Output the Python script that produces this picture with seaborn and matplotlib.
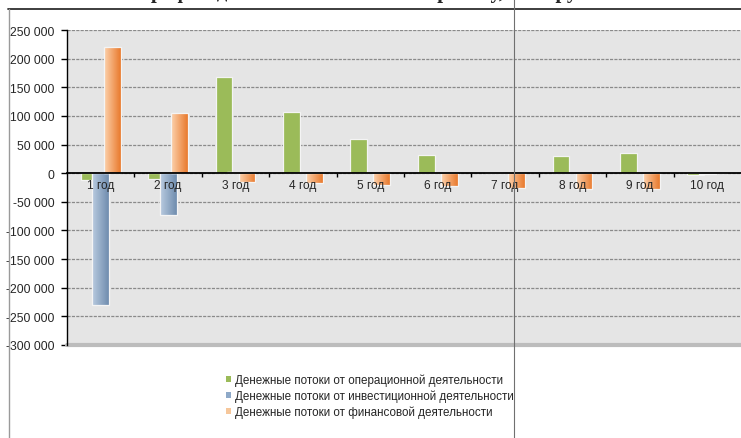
import numpy as np
import pandas as pd
import matplotlib
matplotlib.use("Agg")
import matplotlib.pyplot as plt
from matplotlib.lines import Line2D
from matplotlib.patches import Patch, Rectangle
from matplotlib.ticker import FuncFormatter, MultipleLocator, FixedLocator
import seaborn as sns

# ---- data (thousand roubles) ----
years = ["1 год", "2 год", "3 год", "4 год", "5 год",
         "6 год", "7 год", "8 год", "9 год", "10 год"]
operating = [-12000, -10000, 168000, 107000, 59000, 32000, 2000, 30000, 36000, -3000]
investing = [-230000, -73000, 2000, 1000, 1000, 1000, 1000, 1000, 1000, -2000]
financing = [220000, 105000, -15000, -18000, -20000, -22000, -25000, -27000, -28000, 0]
series_names = ["Денежные потоки от операционной деятельности",
                "Денежные потоки от инвестиционной деятельности",
                "Денежные потоки от финансовой деятельности"]
title_text = "График денежных потоков по проекту, тыс. руб."

df = pd.DataFrame({
    "year": years * 3,
    "value": operating + investing + financing,
    "series": [series_names[0]] * 10 + [series_names[1]] * 10 + [series_names[2]] * 10,
})

sns.set_theme(style="white")
plt.rcParams["font.family"] = ["Liberation Sans", "DejaVu Sans"]

colors = ["#9bbb59", "#8eaac9", "#f7a668"]
grad_maps = {
    1: ("#b9cbe0", "#6f8cae"),
    2: ("#fcd2ad", "#e9792c"),
}

fig = plt.figure(figsize=(7.41, 4.39), dpi=100)
ax = fig.add_axes([67 / 741, 1 - 346 / 439, 674 / 741, (346 - 31) / 439])
ax.set_facecolor("#e5e5e5")

sns.barplot(data=df, x="year", y="value", hue="series", hue_order=series_names,
            order=years, palette=colors, width=0.51, saturation=1,
            legend=False, ax=ax, edgecolor="#f4f4f4", linewidth=0.9)

# widen bars so neighbouring series overlap a little
bar_w = 0.25
for ci, cont in enumerate(ax.containers):
    for p in cont.patches:
        cx = p.get_x() + p.get_width() / 2
        p.set_x(cx - bar_w / 2)
        p.set_width(bar_w)
        p.set_zorder(3 + ci)
        if ci in grad_maps:
            c0, c1 = grad_maps[ci]
            cmap = matplotlib.colors.LinearSegmentedColormap.from_list("g", [c0, c1])
            x0, y0 = p.get_x(), p.get_y()
            x1, y1 = x0 + p.get_width(), y0 + p.get_height()
            grad = np.linspace(0, 1, 64).reshape(1, -1)
            im = ax.imshow(grad, cmap=cmap, aspect="auto",
                           extent=(x0, x1, min(y0, y1), max(y0, y1)),
                           zorder=3 + ci + 0.1, interpolation="bilinear")
            im.set_clip_path(p)
            p.set_facecolor("none")
            # light edge above the gradient
            ax.add_patch(Rectangle((x0, y0), p.get_width(), p.get_height(), fill=False,
                                   edgecolor="#f4f4f4", linewidth=0.9,
                                   zorder=3 + ci + 0.2))

ax.set_xlim(-0.5, 9.5)
ax.set_ylim(-300000, 250000)
ax.set_xlabel("")
ax.set_ylabel("")

# y axis
ax.yaxis.set_major_locator(MultipleLocator(50000))
ax.yaxis.set_major_formatter(FuncFormatter(lambda v, _: f"{int(v):,}".replace(",", " ")))
ax.tick_params(axis="y", which="major", direction="out", length=4, width=1,
               color="black", labelsize=8.7, pad=5, left=True)
ax.yaxis.grid(True, linestyle=(0, (2.5, 1)), color="#8a8a8a", linewidth=0.9, zorder=0)
ax.set_axisbelow(True)

# category axis drawn along zero, labels kept above the bars
for s in ["top", "right"]:
    ax.spines[s].set_visible(False)
ax.spines["left"].set_color("black")
ax.spines["left"].set_linewidth(1)
ax.spines["bottom"].set_position(("data", 0))
ax.spines["bottom"].set_color("black")
ax.spines["bottom"].set_linewidth(1.3)
ax.spines["bottom"].set_zorder(10)
ax.xaxis.set_zorder(20)
ax.xaxis.set_minor_locator(FixedLocator(np.arange(0.5, 9.5, 1)))
ax.tick_params(axis="x", which="major", length=0, labelsize=8.6, pad=4, bottom=True)
ax.tick_params(axis="x", which="minor", direction="out", length=3, width=1,
               color="black", bottom=True)

# shaded lower edge of the plot area
ax.axhline(-300000, color="#bcbcbc", linewidth=3, clip_on=False, zorder=1)

# legend
handles = [Patch(facecolor=c, edgecolor="none") for c in ["#9bbb59", "#8ea9c8", "#f6c79b"]]
fig.legend(handles, series_names, loc="upper left",
           bbox_to_anchor=(226 / 741, 1 - 375 / 439), frameon=False,
           handlelength=0.45, handleheight=0.45, handletextpad=0.35,
           labelspacing=0.3, fontsize=8.4, borderaxespad=0, borderpad=0)

# title, mostly above the visible frame
fig.text(366 / 741, 1 + 2 / 439, title_text, ha="center", va="baseline",
         fontsize=15, fontweight="bold", family=["Liberation Serif", "DejaVu Serif"])

# outer frame lines
fig.add_artist(Line2D([8 / 741, 1], [1 - 9.5 / 439] * 2, color="#2e2e2e", linewidth=1.3))
fig.add_artist(Line2D([8.5 / 741] * 2, [0, 1 - 9.5 / 439], color="#9a9a9a", linewidth=1))
fig.add_artist(Line2D([513.5 / 741] * 2, [0, 1], color="#707070", linewidth=0.8))

fig.savefig("out.png", dpi=100)
